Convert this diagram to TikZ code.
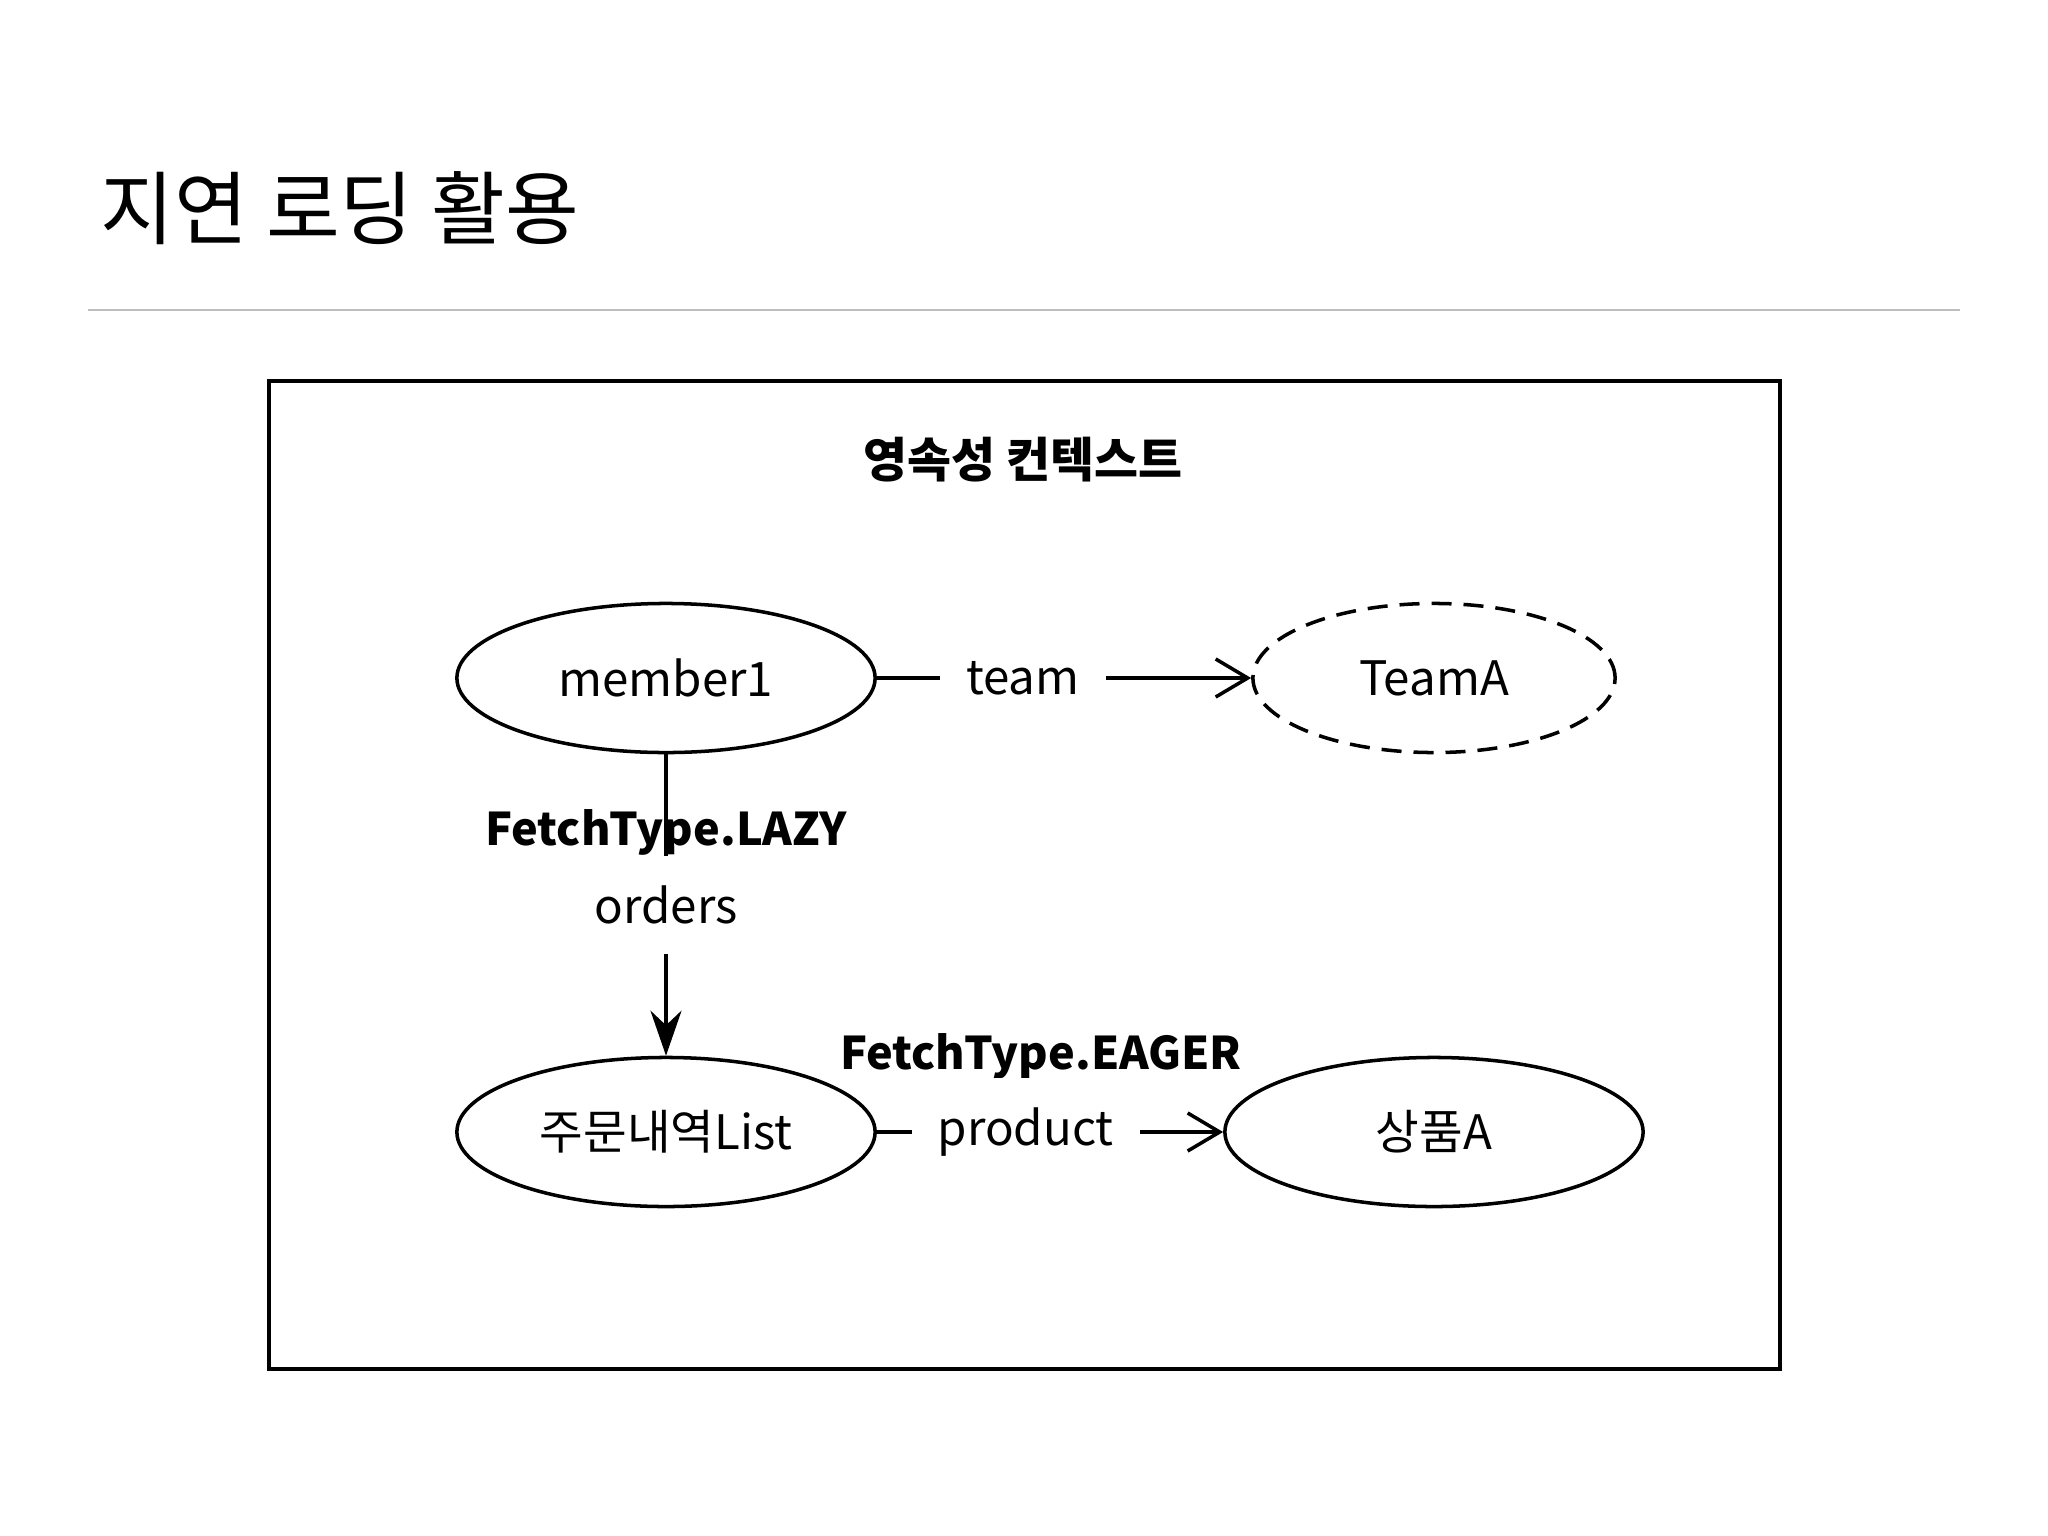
\documentclass[tikz,border=0pt]{standalone}
\usepackage{fontspec}
\setmainfont{Noto Sans CJK KR}
\usetikzlibrary{positioning,shapes.geometric,arrows.meta}
\definecolor{rulegray}{HTML}{BDBDBD}

\begin{document}
\begin{tikzpicture}[x=0.01cm, y=-0.01cm,
    entity/.style={ellipse, draw, line width=1pt, minimum width=4.18cm, minimum height=1.49cm, inner sep=0pt, font=\fontsize{13.5pt}{16pt}\selectfont},
    reflabel/.style={fill=white, inner xsep=0.26cm, inner ysep=0.3cm, font=\fontsize{13.5pt}{16pt}\selectfont},
    fetchlabel/.style={inner sep=0pt, font=\fontsize{12.8pt}{15pt}\selectfont\bfseries},
    link/.style={line width=1pt}]
    \useasboundingbox (0,0) rectangle (2048,1536);

    \node[anchor=west, inner sep=0pt, font=\fontsize{22.8pt}{27pt}\selectfont] (title) at (100,208) {지연 로딩 활용};
    \draw[rulegray, line width=0.6pt] (88,310) -- (1960,310);

    \draw[line width=1pt] (269,381) rectangle (1780,1369);
    \node[inner sep=0pt, font=\fontsize{13.6pt}{16pt}\selectfont\bfseries] (context) at (1023,460) {영속성 컨텍스트};

    \node[entity] (member) at (666,678) {member1};
    \node[entity, dashed, dash pattern=on 0.2cm off 0.12cm, minimum width=3.62cm] (teamA) at (1434,678) {TeamA};
    \node[entity] (orderList) at (666,1132) {주문내역List};
    \node[entity] (productA) at (1434,1132) {상품A};

    \node[fetchlabel] (lazy) at (666,832) {FetchType.LAZY};
    \node[fetchlabel] (eager) at (1041,1056) {FetchType.EAGER};

    \draw[link, -{Straight Barb[length=0.32cm, width=0.38cm]}] (member) -- node[reflabel, pos=0.39] {team} (teamA);
    \draw[link, -{Stealth[length=0.45cm, width=0.31cm]}] (member) -- node[reflabel, pos=0.5] {orders} (orderList);
    \draw[link, -{Straight Barb[length=0.32cm, width=0.38cm]}] (orderList) -- node[reflabel, pos=0.43] {product} (productA);
\end{tikzpicture}
\end{document}
